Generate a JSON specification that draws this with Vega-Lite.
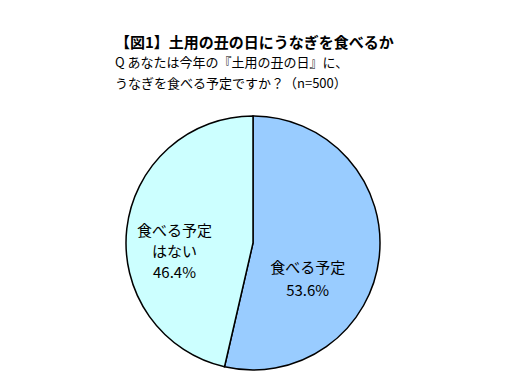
{
  "$schema": "https://vega.github.io/schema/vega-lite/v6.json",
  "autosize": "none",
  "width": 254,
  "height": 254,
  "padding": {"top": 116, "left": 126, "right": 132, "bottom": 14},
  "background": "white",
  "config": {"view": {"stroke": null}},
  "title": {
    "text": "【図1】土用の丑の日にうなぎを食べるか",
    "subtitle": ["Q あなたは今年の『土用の丑の日』に、", "うなぎを食べる予定ですか？（n=500）"],
    "anchor": "start",
    "frame": "group",
    "dx": -11,
    "offset": 22,
    "font": "Noto Sans CJK JP",
    "fontSize": 15,
    "fontWeight": "bold",
    "color": "black",
    "subtitleFont": "Noto Sans CJK JP",
    "subtitleFontSize": 13,
    "subtitleColor": "black",
    "subtitleLineHeight": 21,
    "subtitlePadding": 6
  },
  "data": {
    "values": [
      {"category": "食べる予定", "value": 53.6, "label": ["食べる予定", "53.6%"]},
      {"category": "食べる予定はない", "value": 46.4, "label": ["食べる予定", "はない", "46.4%"]}
    ]
  },
  "encoding": {
    "theta": {"field": "value", "type": "quantitative", "stack": true},
    "color": {
      "field": "category",
      "type": "nominal",
      "scale": {"domain": ["食べる予定", "食べる予定はない"], "range": ["#99CCFF", "#CCFFFF"]},
      "legend": null
    }
  },
  "layer": [
    {"mark": {"type": "arc", "outerRadius": 127, "stroke": "black", "strokeWidth": 1.5}},
    {
      "mark": {"type": "text", "radius": 58, "font": "Noto Sans CJK JP", "fontSize": 15, "lineHeight": 23, "dy": 18, "dx": -3},
      "encoding": {
        "text": {"condition": {"test": "datum.category === '食べる予定'", "field": "label"}, "value": ""},
        "color": {"value": "black"}
      }
    },
    {
      "mark": {"type": "text", "radius": 78, "font": "Noto Sans CJK JP", "fontSize": 15, "lineHeight": 21, "dy": -3, "dx": -1},
      "encoding": {
        "text": {"condition": {"test": "datum.category === '食べる予定はない'", "field": "label"}, "value": ""},
        "color": {"value": "black"}
      }
    }
  ]
}
